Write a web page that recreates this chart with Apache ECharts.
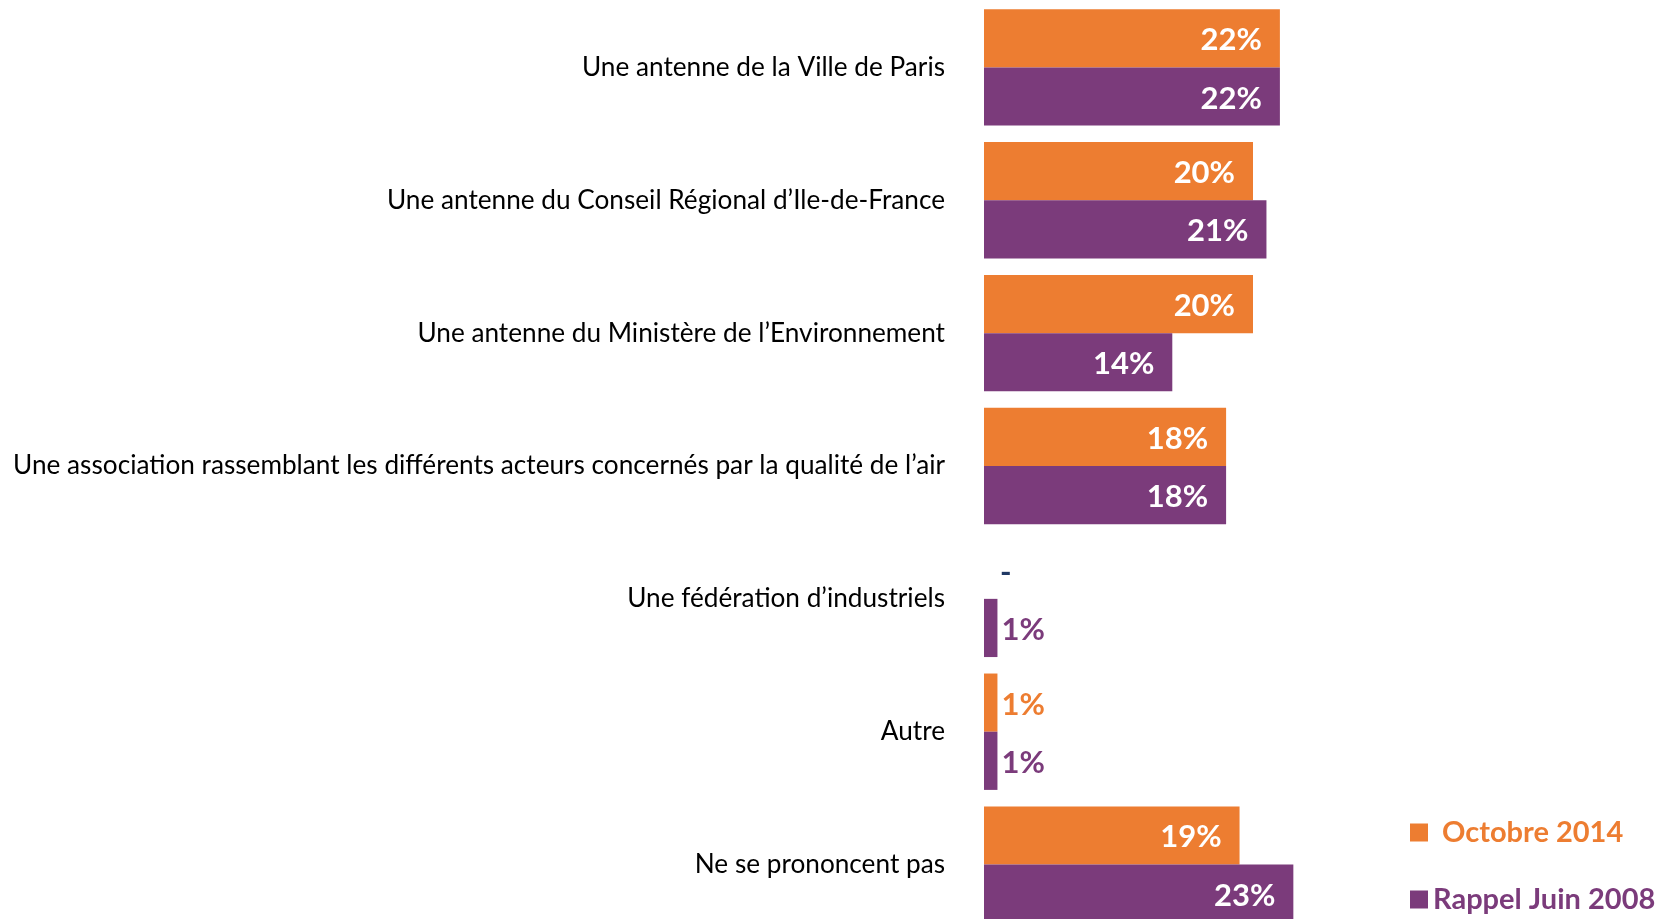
<!DOCTYPE html>
<html>
<head>
<meta charset="utf-8">
<script src="https://cdn.jsdelivr.net/npm/echarts@6/dist/echarts.min.js"></script>
<style>
  html, body { margin: 0; padding: 0; background: #fff; }
  #chart { width: 1663px; height: 919px; }
</style>
</head>
<body>
<div id="chart"></div>
<script>
const categories = [
  'Une antenne de la Ville de Paris',
  'Une antenne du Conseil Régional d’Ile-de-France',
  'Une antenne du Ministère de l’Environnement',
  'Une association rassemblant les différents acteurs concernés par la qualité de l’air',
  'Une fédération d’industriels',
  'Autre',
  'Ne se prononcent pas'
]
const octobre2014 = [22, 20, 20, 18, 0, 1, 19]
const juin2008 = [22, 21, 14, 18, 1, 1, 23]

const ORANGE = '#ED7D31'
const PURPLE = '#7B3B7B'
const FONT = 'Lato'

// petites barres : étiquette à droite, couleur de la série ; 0 => "-"
const toData = (values, color) => values.map(v => {
  if (v === 0) {
    return { value: 0, label: { show: true, position: 'right', distance: 16, formatter: '-', color: '#1F3864', fontWeight: 'bold', offset: [0, 3] } }
  }
  if (v < 5) {
    return { value: v, label: { show: true, position: 'right', distance: 4, color: color } }
  }
  return v
})

const barLabel = {
  show: true,
  position: 'insideRight',
  distance: 18,
  offset: [0, 2],
  color: '#fff',
  fontFamily: FONT,
  fontWeight: 'bold',
  fontSize: 31,
  formatter: '{c}%'
}

const chart = echarts.init(document.getElementById('chart'))
chart.setOption({
  animation: false,
  textStyle: { fontFamily: FONT },
  grid: { left: 984, top: 1, width: 672.5, height: 930, containLabel: false, outerBoundsMode: 'none' },
  legend: {
    orient: 'vertical',
    left: 1410,
    top: 818,
    padding: 0,
    icon: 'rect',
    itemWidth: 18,
    itemHeight: 18,
    itemGap: 38,
    selectedMode: false,
    textStyle: { fontFamily: FONT, fontWeight: 'bold', fontSize: 29 },
    data: [
      { name: 'Octobre 2014', textStyle: { color: ORANGE, padding: [0, 0, 0, 9] } },
      { name: 'Rappel Juin 2008', textStyle: { color: PURPLE } }
    ]
  },
  xAxis: { type: 'value', min: 0, max: 50, show: false },
  yAxis: {
    type: 'category',
    inverse: true,
    data: categories,
    axisLine: { show: false },
    axisTick: { show: false },
    axisLabel: { margin: 39, color: '#000', fontFamily: FONT, fontSize: 26.2 }
  },
  series: [
    {
      name: 'Octobre 2014',
      type: 'bar',
      data: toData(octobre2014, ORANGE),
      itemStyle: { color: ORANGE },
      barGap: '0%',
      barCategoryGap: '12.4%',
      label: barLabel
    },
    {
      name: 'Rappel Juin 2008',
      type: 'bar',
      data: toData(juin2008, PURPLE),
      itemStyle: { color: PURPLE },
      barGap: '0%',
      barCategoryGap: '12.4%',
      label: barLabel
    }
  ]
})
window.addEventListener('resize', function () {
  chart.resize()
})
</script>
</body>
</html>
